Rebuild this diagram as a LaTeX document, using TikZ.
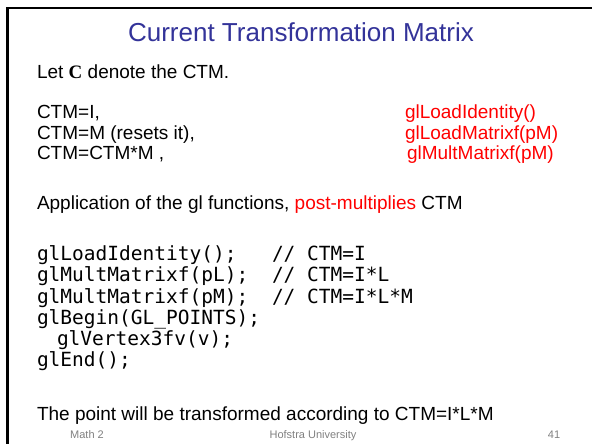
\documentclass[tikz,border=0pt]{standalone}
\usepackage{fontspec}
\setmainfont{Liberation Sans}
\setmonofont{DejaVu Sans Mono}
\newfontfamily\boldserif{Liberation Serif}
\definecolor{titleblue}{RGB}{51,51,153}
\definecolor{glred}{RGB}{255,0,0}
\definecolor{footgray}{RGB}{128,128,128}
\begin{document}
\begin{tikzpicture}[x=1bp,y=-1bp,
  every node/.style={inner sep=0pt,outer sep=0pt},
  titletext/.style={anchor=base,text=titleblue,font=\fontsize{26bp}{30bp}\selectfont},
  bodytext/.style={anchor=base west,font=\fontsize{19bp}{22bp}\selectfont},
  redtext/.style={bodytext,text=glred},
  codetext/.style={anchor=base west,font=\ttfamily\fontsize{19.5bp}{22bp}\selectfont},
  foottext/.style={anchor=base,text=footgray,font=\fontsize{11bp}{13bp}\selectfont}]
\useasboundingbox (0,0) rectangle (592,444);
% slide frame: top and left rules only
\draw[line width=2.6bp] (592,8) -- (7.5,8) -- (7.5,444);
% title
\node[titletext] (title) at (301,42) {Current Transformation Matrix};
% definitions
\node[bodytext] (letc) at (37,79) {Let {\boldserif\bfseries C} denote the CTM.};
\node[bodytext] (ctmi) at (37,119) {CTM=I,};
\node[bodytext] (ctmm) at (37,139.5) {CTM=M (resets it),};
\node[bodytext] (ctmcm) at (37,160) {CTM=CTM*M ,};
\node[redtext] (loadid) at (405,119) {glLoadIdentity()};
\node[redtext] (loadmat) at (405,139.5) {glLoadMatrixf(pM)};
\node[redtext] (multmat) at (407,160) {glMultMatrixf(pM)};
\node[bodytext] (apply) at (37,210) {Application of the gl functions, \textcolor{glred}{post-multiplies} CTM};
% code listing
\node[codetext] (c1) at (37,261) {glLoadIdentity();};
\node[codetext] (c2) at (37,282) {glMultMatrixf(pL);};
\node[codetext] (c3) at (37,303) {glMultMatrixf(pM);};
\node[codetext] (c4) at (37,324) {glBegin(GL\_POINTS);};
\node[codetext] (c5) at (57,345) {glVertex3fv(v);};
\node[codetext] (c6) at (37,366) {glEnd();};
\node[codetext] (k1) at (272,261) {// CTM=I};
\node[codetext] (k2) at (272,282) {// CTM=I*L};
\node[codetext] (k3) at (272,303) {// CTM=I*L*M};
% conclusion
\node[bodytext] (point) at (37,420) {The point will be transformed according to CTM=I*L*M};
% footer
\node[foottext] (fl) at (87,438) {Math 2};
\node[foottext] (fc) at (313,438) {Hofstra University};
\node[foottext] (fr) at (554,438) {41};
\end{tikzpicture}
\end{document}
